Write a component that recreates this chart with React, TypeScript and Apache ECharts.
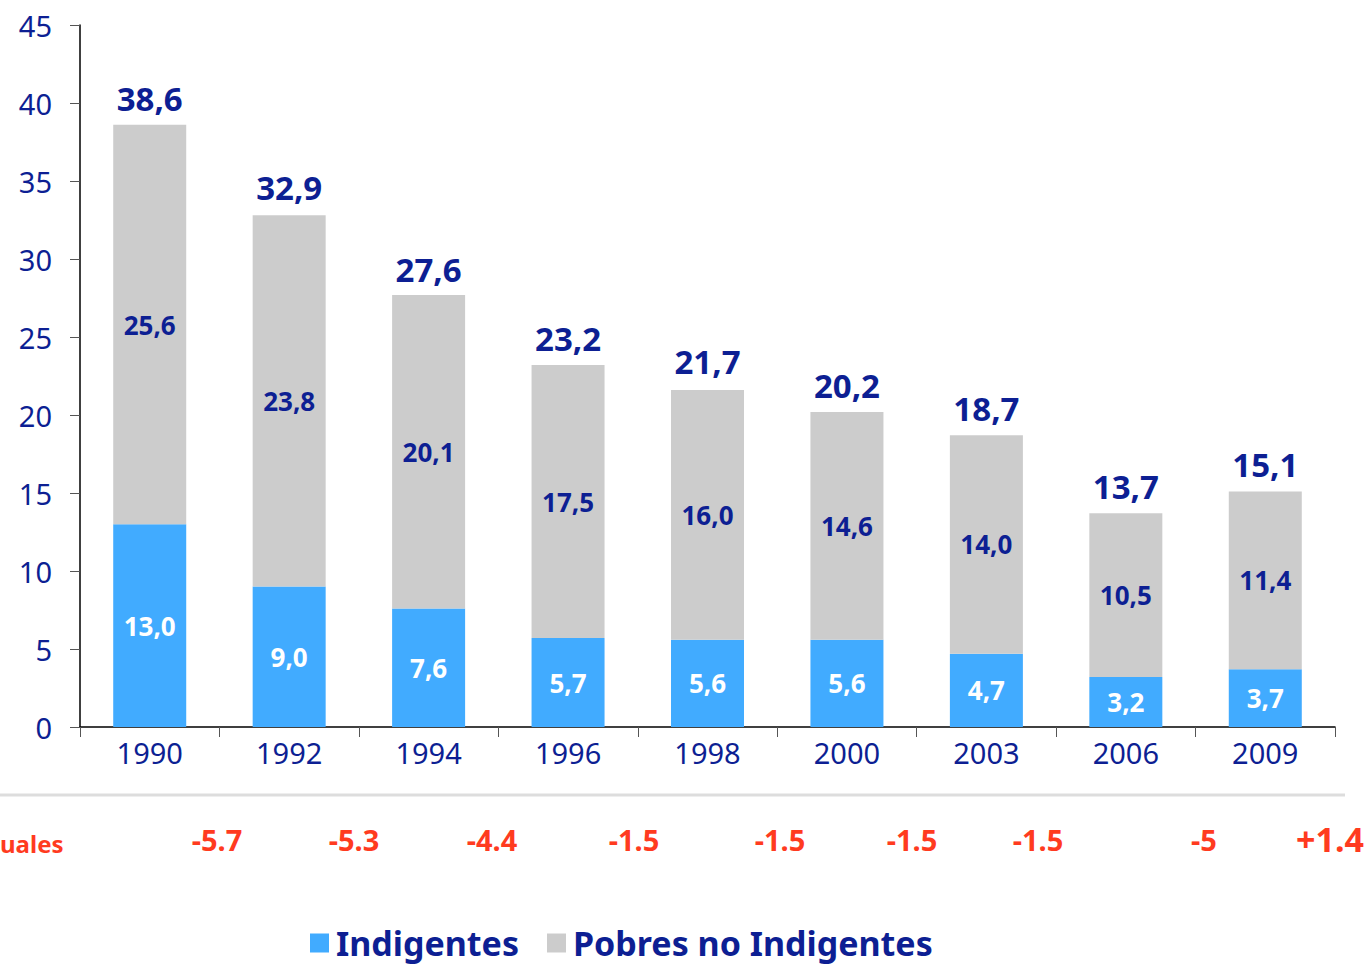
import React, { useEffect, useRef } from "react";
import * as echarts from "echarts";

const years = ["1990", "1992", "1994", "1996", "1998", "2000", "2003", "2006", "2009"];
const indigentes = [13.0, 9.0, 7.6, 5.7, 5.6, 5.6, 4.7, 3.2, 3.7];
const pobresNoIndigentes = [25.6, 23.8, 20.1, 17.5, 16.0, 14.6, 14.0, 10.5, 11.4];
const totales = [38.6, 32.9, 27.6, 23.2, 21.7, 20.2, 18.7, 13.7, 15.1];
const variaciones = ["-5.7", "-5.3", "-4.4", "-1.5", "-1.5", "-1.5", "-1.5", "-5", "+1.4"];
const variacionX = [217, 354, 492, 634, 780, 912, 1038, 1204, 1330];
const rowLabel = "uales";

const DARK = "#0d1f93";
const BLUE = "#41abff";
const GRAY = "#cccccc";
const RED = "#ff3b1f";
const FONT = "'Noto Sans', sans-serif";

const fmt = (v: number) => v.toFixed(1).replace(".", ",");

export default function App() {
  const ref = useRef<HTMLDivElement>(null);
  useEffect(() => {
    if (!ref.current) return;
    const chart = echarts.init(ref.current, undefined, { renderer: "svg" });
    const graphics: any[] = [
      {
        type: "line",
        shape: { x1: 0, y1: 795, x2: 1345, y2: 795 },
        style: { stroke: "#dddddd", lineWidth: 3 },
      },
      {
        type: "text",
        x: 0,
        y: 843,
        style: {
          text: rowLabel,
          fill: RED,
          font: `bold 24px ${FONT}`,
          textAlign: "left",
          textVerticalAlign: "middle",
        },
      },
    ];
    variaciones.forEach((v, i) => {
      graphics.push({
        type: "text",
        x: variacionX[i],
        y: 839,
        style: {
          text: v,
          fill: RED,
          font: `bold ${i === variaciones.length - 1 ? 34 : 29}px ${FONT}`,
          textAlign: "center",
          textVerticalAlign: "middle",
        },
      });
    });
    chart.setOption({
      animation: false,
      grid: { left: 80, right: 32, top: 25, bottom: 239, containLabel: false },
      legend: {
        data: ["Indigentes", "Pobres no Indigentes"],
        left: 305,
        top: 921,
        icon: "rect",
        itemWidth: 19,
        itemHeight: 19,
        itemGap: 28,
        textStyle: { color: DARK, fontSize: 34, fontWeight: "bold", fontFamily: FONT, padding: [0, 0, 0, 2] },
      },
      xAxis: {
        type: "category",
        data: years,
        axisLine: { lineStyle: { color: "#000", width: 1.5 } },
        axisTick: { show: true, length: 10, lineStyle: { color: "#555" } },
        axisLabel: { color: DARK, fontSize: 29, fontFamily: FONT, margin: 11 },
      },
      yAxis: {
        type: "value",
        min: 0,
        max: 45,
        interval: 5,
        splitLine: { show: false },
        axisLine: { show: true, lineStyle: { color: "#000", width: 1.5 } },
        axisTick: { show: true, length: 10, lineStyle: { color: "#555" } },
        axisLabel: { color: DARK, fontSize: 29, fontFamily: FONT, margin: 28 },
      },
      series: [
        {
          name: "Indigentes",
          type: "bar",
          stack: "total",
          data: indigentes,
          barWidth: 73,
          itemStyle: { color: BLUE },
          label: {
            show: true,
            position: "inside",
            color: "#fff",
            fontSize: 26,
            fontWeight: "bold",
            fontFamily: FONT,
            formatter: (p: any) => fmt(p.value),
          },
        },
        {
          name: "Pobres no Indigentes",
          type: "bar",
          stack: "total",
          data: pobresNoIndigentes,
          barWidth: 73,
          itemStyle: { color: GRAY },
          label: {
            show: true,
            position: "inside",
            color: DARK,
            fontSize: 26,
            fontWeight: "bold",
            fontFamily: FONT,
            formatter: (p: any) => fmt(p.value),
          },
        },
        {
          name: "Total",
          type: "scatter",
          data: totales,
          symbolSize: 0,
          itemStyle: { opacity: 1 },
          label: {
            show: true,
            position: "top",
            distance: 10,
            color: DARK,
            opacity: 1,
            fontSize: 33,
            fontWeight: "bold",
            fontFamily: FONT,
            formatter: (p: any) => fmt(p.value),
          },
        },
      ],
      graphic: graphics,
    });
    return () => chart.dispose();
  }, []);
  return (
    <div
      ref={ref}
      style={{ position: "fixed", left: 0, top: 0, width: 1367, height: 966, background: "#fff" }}
    />
  );
}
